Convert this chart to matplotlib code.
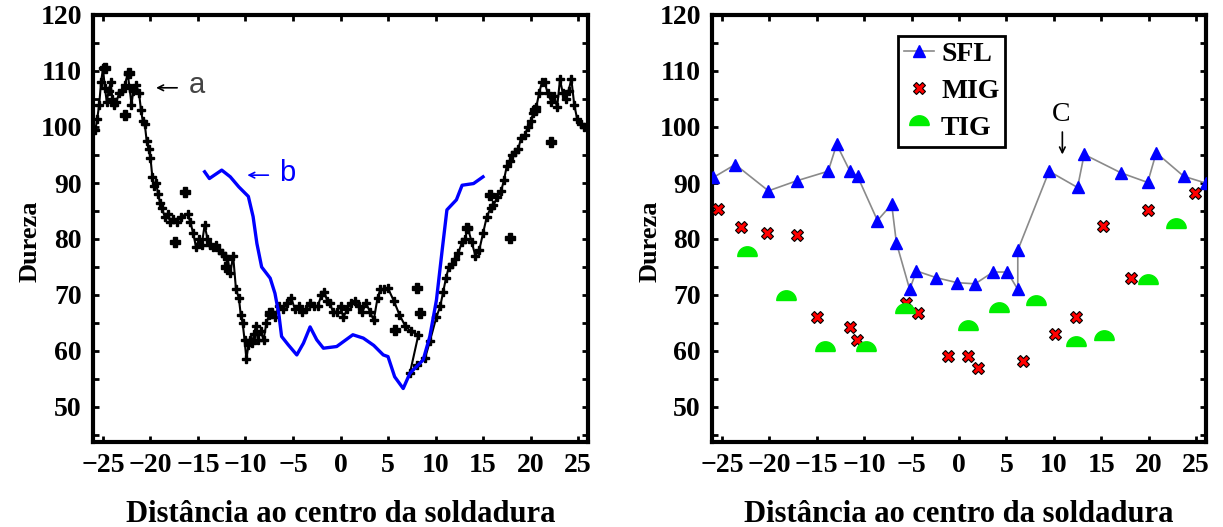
import numpy as np
import matplotlib
matplotlib.use("Agg")
import matplotlib.pyplot as plt
from matplotlib.ticker import MultipleLocator

# curve a (black, connected points)
a_x = [-25.8, -25.6, -25.4, -25.2, -25.0, -24.8, -24.6, -24.4, -24.2, -24.0, -23.8, -23.6,
       -23.3, -23.0, -22.7, -22.4, -22.2, -22.0, -21.8, -21.5, -21.2, -21.0, -20.8, -20.6,
       -20.4, -20.2, -20.0, -19.8, -19.6, -19.4, -19.2, -19.0, -18.8, -18.5, -18.2, -17.9,
       -17.6, -17.2, -16.8, -16.1, -15.8, -15.5, -15.2, -14.9, -14.6, -14.3, -14.0, -13.7,
       -13.4, -13.1, -12.8, -12.5, -12.2, -11.9, -11.6, -11.3, -11.0, -10.7, -10.5, -10.3,
       -10.1, -9.9, -9.7, -9.5, -9.3, -9.1, -8.9, -8.7, -8.4, -8.1, -7.8, -7.5, -7.2, -6.9,
       -6.5, -6.0, -5.6, -5.2, -4.8, -4.4, -4.0, -3.6, -3.2, -2.8, -2.4, -2.0, -1.7, -1.4,
       -1.1, -0.8, -0.4, 0.0, 0.3, 0.7, 1.1, 1.5, 1.9, 2.3, 2.7, 3.1, 3.5, 3.9, 4.2, 4.6,
       5.0, 5.6, 6.2, 6.8, 7.4, 8.2, 7.3, 8.0, 8.9, 9.4, 10.1, 10.5, 10.8, 11.1, 11.4, 11.7,
       12.0, 12.4, 12.8, 13.1, 13.4, 13.8, 14.2, 14.6, 15.0, 15.4, 15.8, 16.1, 16.5, 16.9,
       17.2, 17.5, 17.8, 18.1, 18.4, 18.7, 19.0, 19.4, 19.7, 20.0, 20.3, 20.6, 20.9, 21.2,
       21.5, 21.8, 22.2, 22.5, 22.8, 23.1, 23.4, 23.7, 24.0, 24.3, 24.6, 24.9, 25.3, 25.6]
a_y = [99.5, 101.5, 104.0, 108.0, 110.5, 107.0, 104.5, 106.5, 108.0, 105.0, 104.0, 104.5,
       106.0, 106.5, 107.5, 109.5, 107.0, 104.0, 106.5, 107.5, 106.0, 103.0, 101.0, 100.5,
       97.5, 96.0, 94.5, 91.0, 89.5, 90.0, 88.0, 86.5, 85.5, 84.0, 84.5, 83.0,
       83.5, 83.0, 84.0, 84.5, 83.0, 81.0, 78.5, 80.0, 79.0, 82.5, 80.0, 79.0,
       78.5, 79.0, 78.0, 77.5, 77.0, 76.5, 74.0, 77.0, 71.0, 69.5, 66.5, 65.0,
       62.0, 58.5, 61.0, 62.0, 61.5, 63.0, 64.5, 62.0, 63.5, 62.0, 65.0, 66.5, 67.0, 66.0,
       68.0, 67.5, 68.5, 69.5, 67.5, 68.0, 67.0, 67.5, 68.5, 68.0, 68.0, 70.0, 70.5, 69.0,
       68.5, 67.0, 67.0, 68.0, 66.0, 67.5, 68.5, 69.0, 68.0, 67.0, 68.5, 67.0, 65.5, 69.5, 71.0, 71.0,
       71.2, 69.0, 66.5, 64.5, 63.5, 62.9, 56.0, 57.5, 58.7, 61.7, 66.1, 68.0, 70.5, 73.0, 75.0, 75.5,
       76.5, 77.5, 79.5, 80.0, 82.0, 79.5, 77.0, 78.0, 81.0, 84.0, 85.5, 86.0, 87.5, 88.5,
       90.5, 93.0, 94.0, 95.0, 95.5, 96.0, 98.0, 98.5, 100.0, 101.0, 102.5, 103.5, 106.0, 108.0,
       108.0, 106.0, 104.5, 105.5, 103.5, 108.5, 106.0, 105.0, 106.5, 108.5, 104.0, 101.5, 100.5, 100.0]
# loose points of curve a that sit off the line
a_extra_x = [-24.8, -22.3, -22.7, -16.4, -17.4, -12.0, -7.4, 5.7, 8.0, 8.4, 13.3, 17.8, 22.2, 20.5, 15.7]
a_extra_y = [110.5, 109.6, 102.1, 88.4, 79.5, 75.0, 66.7, 63.8, 71.2, 66.7, 82.0, 80.1, 97.4, 103.0, 87.9]

# curve b (blue line)
b_x = [-14.3, -13.8, -12.5, -11.6, -10.7, -9.7, -9.2, -8.8, -8.3, -7.4, -6.9, -6.5, -6.2,
       -5.5, -4.6, -3.9, -3.2, -2.5, -1.8, -0.4, 1.3, 2.4, 3.5, 4.5, 5.0, 5.7, 6.6, 7.3,
       8.7, 9.4, 10.1, 10.7, 11.2, 12.2, 12.8, 14.0, 15.0]
b_y = [92.0, 90.8, 92.3, 91.1, 89.3, 87.6, 84.0, 79.2, 75.0, 73.0, 70.3, 66.7, 62.6,
       61.1, 59.3, 61.4, 64.3, 62.0, 60.5, 60.8, 62.9, 62.3, 61.0, 59.3, 59.0, 55.4, 53.3, 56.0,
       58.4, 62.6, 69.1, 78.0, 85.2, 87.0, 89.6, 89.9, 91.1]

# right panel
sfl_x = [-25.9, -23.6, -20.1, -17.1, -13.8, -12.9, -11.5, -10.7, -8.6, -7.1, -6.6, -5.2,
         -4.5, -2.4, -0.2, 1.7, 3.6, 5.1, 6.2, 6.2, 9.5, 12.5, 13.2, 17.1, 19.9, 20.8, 23.7, 26.0]
sfl_y = [91.0, 93.3, 88.6, 90.4, 92.1, 96.9, 92.1, 91.2, 83.3, 86.2, 79.3, 71.0,
         74.3, 73.1, 72.2, 72.0, 74.1, 74.1, 71.0, 78.0, 92.1, 89.2, 95.1, 91.8, 90.1, 95.4, 91.2, 90.0]
mig_x = [-25.4, -23.0, -20.2, -17.1, -15.0, -11.5, -10.8, -5.6, -4.3, -1.2, 0.9, 2.0,
         6.8, 10.1, 12.3, 15.2, 18.1, 19.9, 24.9]
mig_y = [85.3, 82.1, 81.0, 80.8, 66.1, 64.2, 61.9, 68.6, 66.8, 59.1, 59.1, 57.0,
         58.2, 63.0, 66.1, 82.3, 73.0, 85.1, 88.3]
tig_x = [-22.4, -18.2, -14.1, -9.8, -5.7, 0.9, 4.2, 8.1, 12.3, 15.3, 19.9, 22.9]
tig_y = [77.0, 69.1, 60.0, 60.0, 66.7, 63.7, 66.9, 68.2, 60.9, 61.9, 72.0, 82.0]

serif = "Liberation Serif"
W, H = 1223, 527
fig = plt.figure(figsize=(W / 100, H / 100), dpi=100)
ax1 = fig.add_axes([93 / W, 1 - 442 / H, 495 / W, 427 / H])
ax2 = fig.add_axes([712 / W, 1 - 442 / H, 494 / W, 427 / H])

for ax in (ax1, ax2):
    ax.set_xlim(-26.05, 26.05)
    ax.set_ylim(43.75, 120)
    ax.xaxis.set_major_locator(MultipleLocator(5))
    ax.yaxis.set_major_locator(MultipleLocator(10))
    ax.yaxis.set_minor_locator(MultipleLocator(5))
    ax.set_yticks(range(50, 121, 10))
    ax.tick_params(which="both", direction="in", top=True, right=True,
                   length=4, width=2, labelsize=20, pad=8)
    for s in ax.spines.values():
        s.set_linewidth(3)
    for lab in ax.get_xticklabels() + ax.get_yticklabels():
        lab.set_fontfamily(serif)
        lab.set_fontweight("bold")
    ax.set_xlabel("Distância ao centro da soldadura", family=serif, weight="bold",
                  fontsize=22)
    ax.set_ylabel("Dureza", family=serif, weight="bold", fontsize=19)
    ax.yaxis.set_label_coords(-0.103, 0.47)
    ax.xaxis.set_label_coords(0.5, -0.135)

# left panel
ax1.plot(a_x, a_y, color="black", lw=1.5, marker="P", ms=6, zorder=3)
ax1.plot(a_extra_x, a_extra_y, ls="none", color="black", marker="P", ms=7, zorder=3)
ax1.plot(b_x, b_y, color="#0000ff", lw=2.4, zorder=4)
ax1.annotate("", xy=(-19.7, 107), xytext=(-16.9, 107),
             arrowprops=dict(arrowstyle="->", color="black", lw=1.2))
ax1.text(-15.1, 107.5, "a", color="#444444", fontsize=21, family="Liberation Sans",
         ha="center", va="center")
ax1.annotate("", xy=(-10.1, 91.4), xytext=(-7.3, 91.4),
             arrowprops=dict(arrowstyle="->", color="#0000ff", lw=1.2))
ax1.text(-5.6, 91.7, "b", color="#0000ff", fontsize=21, family="Liberation Sans",
         ha="center", va="center")

# right panel
dome = [(np.cos(t), np.sin(t)) for t in np.linspace(0, np.pi, 20)] + [(-1, 0), (1, 0)]
ax2.plot(sfl_x, sfl_y, color="#8a8a8a", lw=1.2, marker="^", ms=9, mfc="#0000ff",
         mec="#0000ff", label="SFL", zorder=3)
ax2.plot(mig_x, mig_y, ls="none", marker="X", ms=9, mfc="red", mec="black", mew=0.8,
         label="MIG", zorder=4)
ax2.plot(tig_x, tig_y, ls="none", marker=dome, ms=14, color="#00ee00",
         label="TIG", zorder=4)
ax2.annotate("", xy=(10.9, 94.6), xytext=(10.9, 99.6),
             arrowprops=dict(arrowstyle="->", color="black", lw=1.2))
ax2.text(10.8, 102.2, "C", fontsize=20, family=serif, ha="center", va="center")
leg = ax2.legend(loc="upper left", bbox_to_anchor=(0.3765, 0.951), borderaxespad=0,
                 fancybox=False, edgecolor="black", framealpha=1, handlelength=1.1,
                 handletextpad=0.25, labelspacing=0.42, borderpad=0.2,
                 prop={"family": serif, "weight": "bold", "size": 20})
leg.get_frame().set_linewidth(2)

fig.savefig("out.png", dpi=100)
